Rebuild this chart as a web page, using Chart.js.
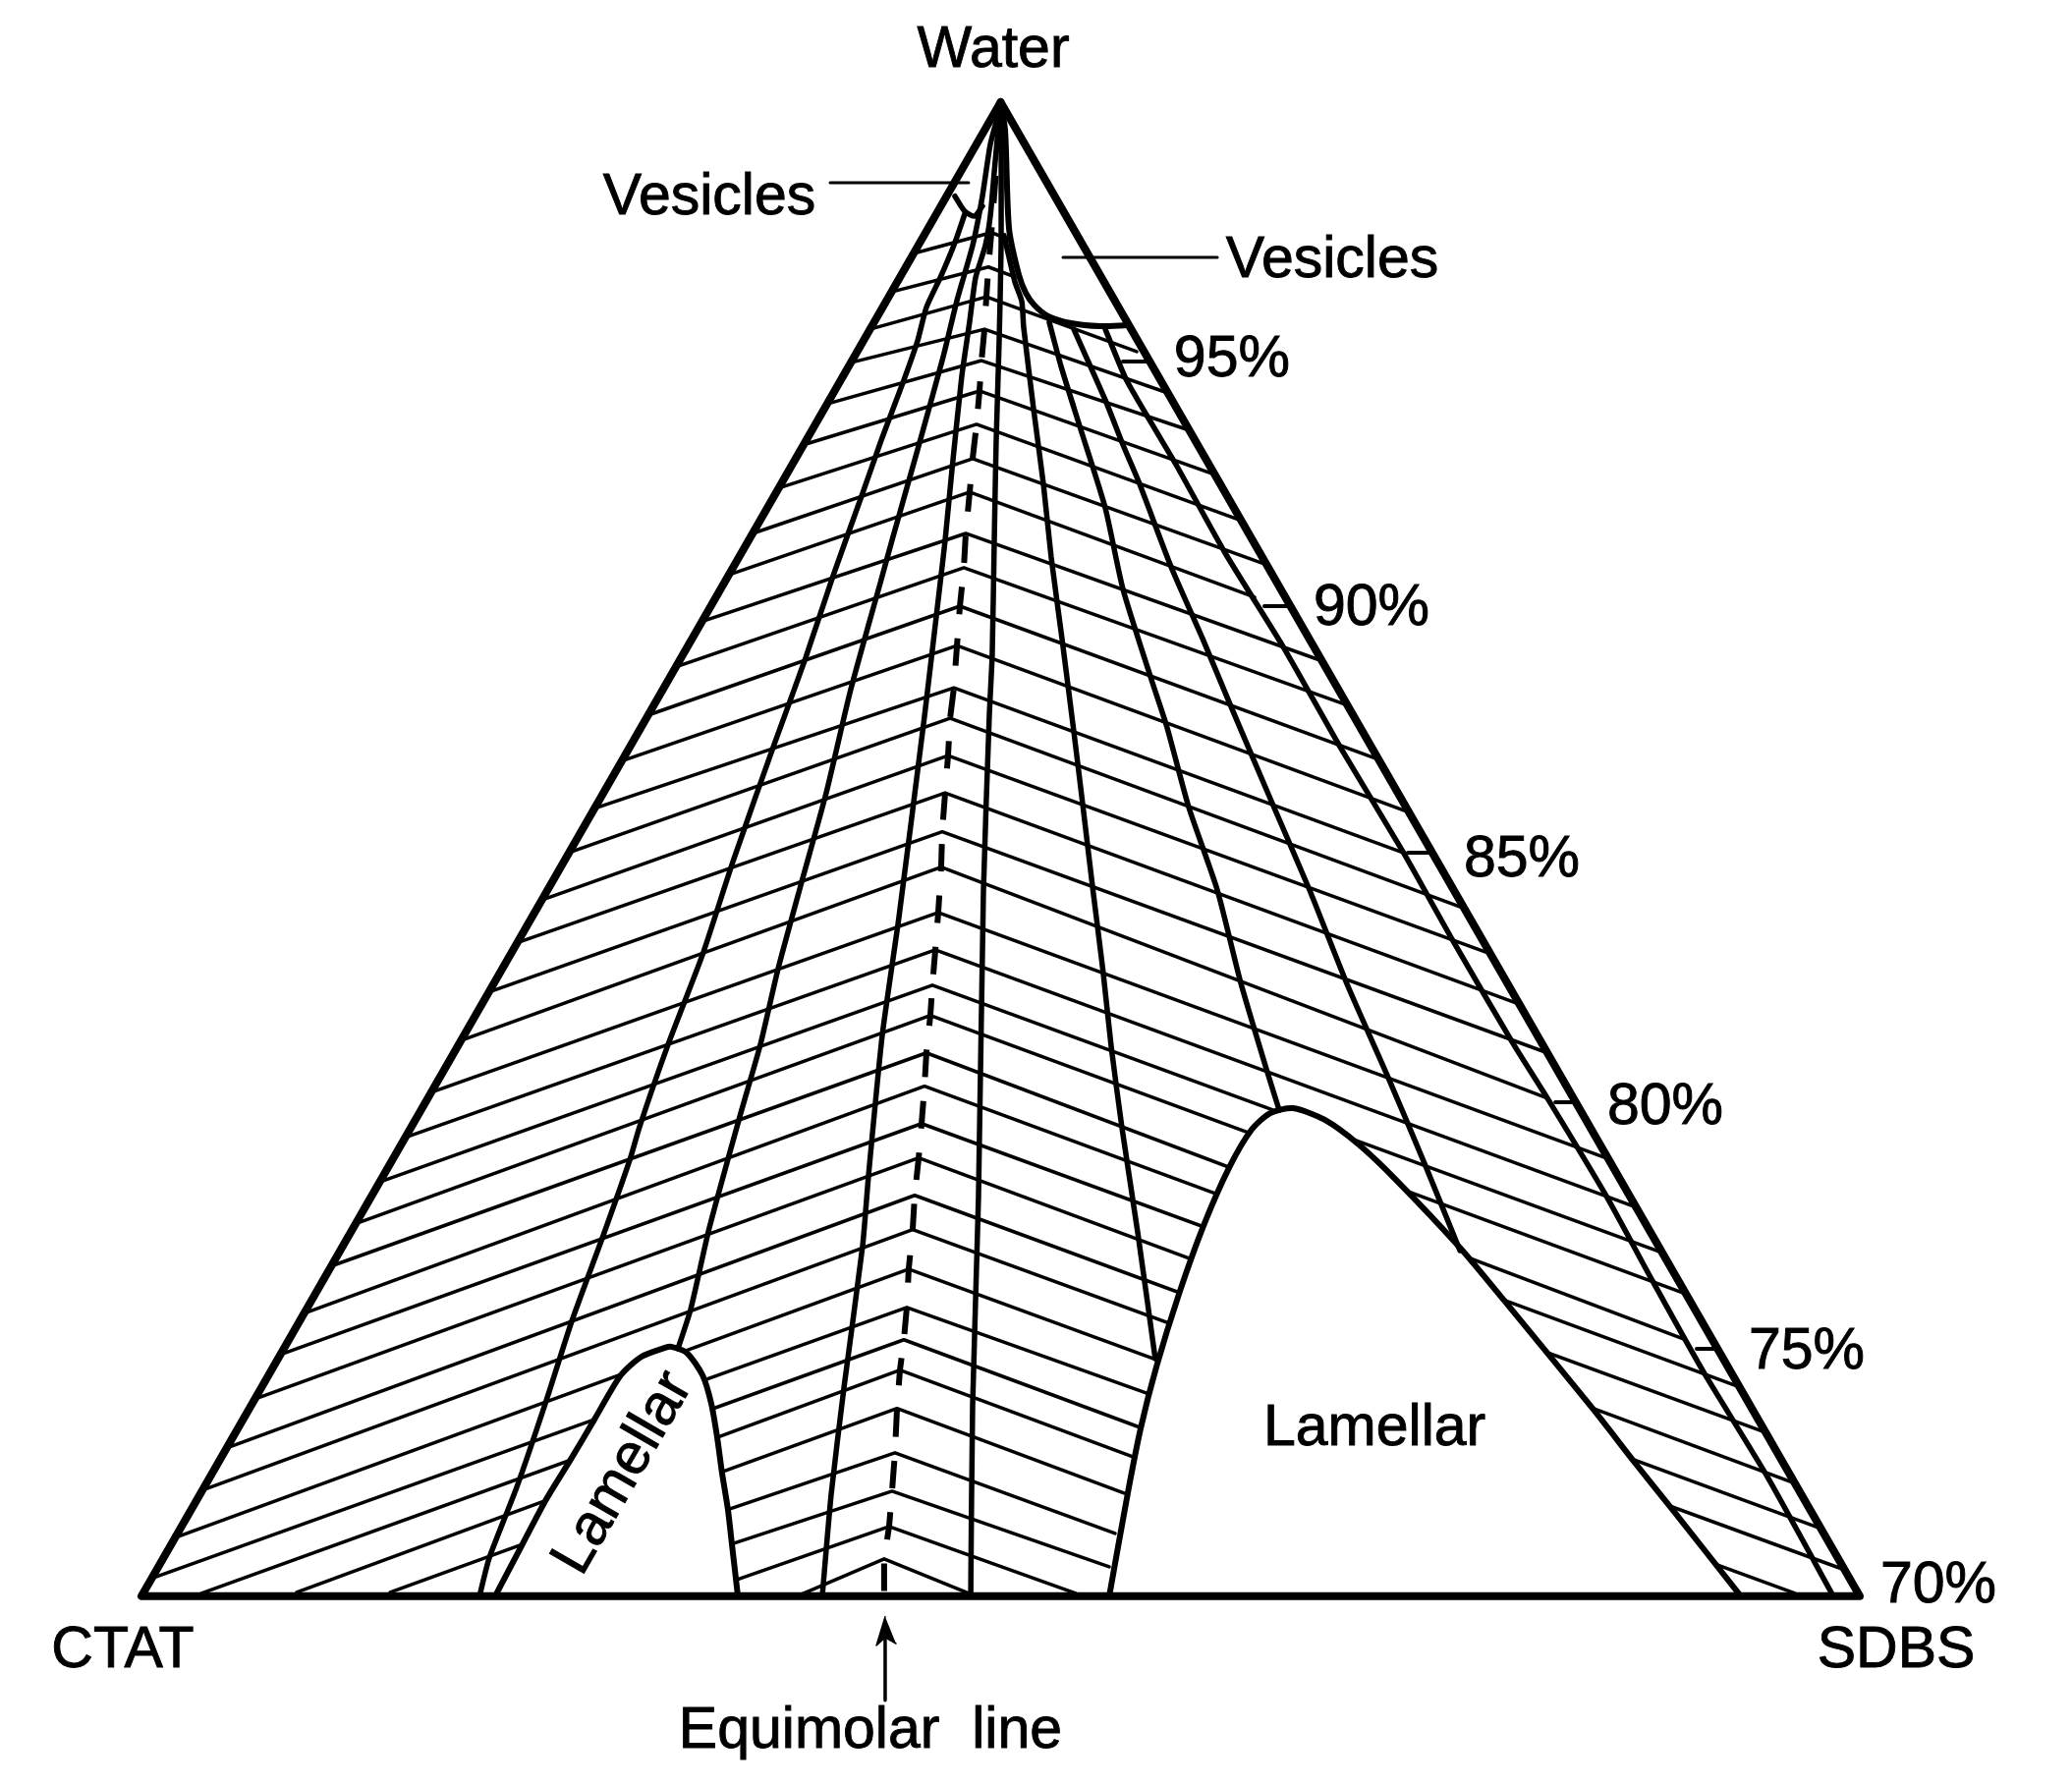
<!DOCTYPE html>
<html>
<head>
<meta charset="utf-8">
<title>CTAT / SDBS / Water phase diagram</title>
<script src="https://cdn.jsdelivr.net/npm/chart.js@4/dist/chart.umd.min.js"></script>
<style>
html, body { margin: 0; padding: 0; background: #fff; }
canvas { display: block; }
</style>
</head>
<body>
<canvas id="myChart" width="2109" height="1817"></canvas>
<script>
// =====================
// Data: x = share along the CTAT-SDBS base (0-100), y = water %
// =====================

// triangle corners
const triangleShare = [50, 0, 100, 50];
const triangleWater = [100, 70, 70, 100];

// tie lines: each one runs left end -> peak on the equimolar line -> right end
const peakShare = [49.46, 49.29, 49.17, 49.06, 48.89, 48.77, 48.60, 48.37, 48.20, 47.97, 47.86, 47.63, 47.46, 47.28, 47.06, 46.94, 46.77, 46.60, 46.54, 46.37, 46.20, 46.03, 45.91, 45.68, 45.57, 45.40, 45.23, 45.00, 44.88, 44.65, 44.54, 44.37, 44.14, 43.97, 43.85, 43.68, 43.51, 43.22];
const peakWater = [97.38, 96.69, 96.09, 95.44, 94.81, 94.20, 93.53, 92.84, 92.17, 91.34, 90.65, 89.88, 89.09, 88.24, 87.63, 86.88, 86.13, 85.35, 84.64, 83.73, 82.98, 82.27, 81.66, 80.91, 80.24, 79.49, 78.80, 78.05, 77.36, 76.57, 75.80, 75.15, 74.54, 73.77, 72.88, 72.11, 71.40, 70.75];
const leftShare = [44.93, 43.65, 42.40, 41.28, 39.90, 38.53, 37.08, 35.57, 34.18, 32.62, 31.10, 29.48, 27.95, 26.37, 24.88, 23.30, 21.87, 20.22, 18.60, 16.87, 15.35, 13.87, 12.47, 11.05, 9.47, 8.08, 6.60, 4.97, 3.55, 1.97, 0.60, 3.49, 9.03, 14.47, 34.13, 34.36, 34.71, 38.14];
const leftWater = [96.96, 96.19, 95.44, 94.77, 93.94, 93.12, 92.25, 91.34, 90.51, 89.57, 88.66, 87.69, 86.77, 85.82, 84.93, 83.98, 83.12, 82.13, 81.16, 80.12, 79.21, 78.32, 77.48, 76.63, 75.68, 74.85, 73.96, 72.98, 72.13, 71.18, 70.36, 70.06, 70.08, 70.08, 71.74, 71.05, 70.34, 70.00];
const rightShare = [50.54, 50.83, 57.92, 59.73, 60.98, 62.47, 64.00, 65.48, 64.78, 68.70, 70.18, 72.00, 73.77, 73.41, 76.98, 78.50, 80.18, 81.82, 81.82, 85.37, 86.98, 88.50, 89.88, 89.88, 93.00, 94.52, 96.22, 97.73, 99.12, 96.23, 58.66, 58.26, 57.69, 57.18, 56.66, 56.32, 54.37, 48.14];
const rightWater = [97.24, 96.49, 94.99, 94.16, 93.41, 92.52, 91.60, 90.71, 90.06, 88.78, 87.89, 86.80, 85.74, 84.93, 83.81, 82.90, 81.89, 80.91, 80.00, 78.78, 77.81, 76.90, 76.07, 75.15, 74.20, 73.29, 72.27, 71.36, 70.53, 70.06, 74.06, 73.37, 72.80, 72.07, 71.26, 70.59, 70.06, 70.06];

// equimolar line ends (the rest of it follows the peaks)
const equimolarTop = [50, 99.8];
const equimolarBottom = [43.22, 70];

// curves between apex and base
const curveAShare = [47.91, 47.34, 46.48, 45.68, 45.17, 44.37, 43.05, 41.91, 40.25, 38.65, 36.82, 34.42, 32.65, 30.65, 28.99, 28.42, 26.87, 25.04, 23.56, 21.84, 20.24, 19.67];
const curveAWater = [97.75, 97.18, 96.47, 95.88, 95.21, 94.42, 93.21, 92.09, 90.49, 88.84, 87.10, 84.75, 82.88, 81.08, 79.43, 78.76, 77.24, 75.52, 73.93, 72.19, 70.77, 70];
const curveBShare = [49.97, 49.40, 48.94, 48.37, 47.46, 46.66, 45.45, 44.65, 43.68, 43.05, 41.28, 39.85, 38.42, 37.05, 36.02, 34.82, 33.05, 31.96, 31.22];
const curveBWater = [99.88, 99.15, 98.11, 97.12, 96.02, 94.89, 93.37, 92.39, 91.20, 90.41, 88.21, 86.13, 84.34, 82.60, 81.08, 79.63, 77.40, 75.76, 74.97];
const curveCShare = [49.97, 49.63, 49.40, 49.11, 48.54, 48.20, 47.74, 47.17, 46.77, 46.54, 45.57, 44.08, 43.11, 42.31, 41.97, 40.88, 40.14, 39.62];
const curveCWater = [99.88, 98.60, 97.71, 97.12, 96.47, 95.60, 94.50, 92.62, 91.20, 90.51, 87.67, 83.63, 81.26, 78.44, 77.04, 74.18, 72.05, 70];
const curveDShare = [50.03, 50.03, 49.91, 49.74, 49.63, 49.51, 49.34, 49.00, 48.71, 48.37, 48.26];
const curveDWater = [99.88, 97.12, 95.15, 93.18, 91.20, 88.90, 87.67, 84.16, 77.99, 73.83, 70];
const curveEShare = [50.20, 50.83, 51.23, 51.34, 51.92, 52.49, 52.94, 53.57, 54.26, 54.77, 55.35, 55.97, 56.43, 57.06, 57.98, 59.00];
const curveEWater = [97.32, 96.39, 96.00, 95.48, 93.83, 92.33, 90.87, 89.23, 87.36, 85.92, 84.24, 82.52, 81.05, 79.41, 77.30, 74.77];
const curveFShare = [52.83, 53.52, 54.66, 56.09, 57.12, 58.78, 59.69, 60.95, 62.61, 63.98, 65.41, 66.21];
const curveFWater = [95.58, 94.69, 93.43, 91.85, 90.22, 88.40, 87.44, 85.84, 84.18, 82.31, 80.65, 79.76];
const curveGShare = [54.26, 56.09, 57.12, 58.09, 59.92, 61.75, 63.35, 65.81, 67.98, 70.21, 72.61, 74.73, 76.73];
const curveGWater = [95.44, 94.02, 93.12, 92.33, 90.67, 89.23, 87.91, 85.92, 84.18, 82.25, 80.37, 78.64, 76.94];
const curveHShare = [56.09, 57.35, 60.21, 63.06, 66.50, 69.81, 73.41, 76.39, 79.82, 81.82, 85.19, 87.94, 90.91, 94.57, 98.46];
const curveHWater = [95.44, 94.40, 92.72, 90.95, 89.03, 87.02, 84.95, 83.12, 81.10, 80.00, 78.07, 76.33, 74.50, 72.43, 70];

// lamellar regions
const smallLamellarShare = [20.58, 22.18, 23.56, 25.04, 26.36, 27.90, 29.10, 30.47, 30.82, 31.73, 32.65, 33.16, 33.50, 33.79, 34.13, 34.36, 34.71];
const smallLamellarWater = [70, 71.05, 71.95, 72.78, 73.55, 74.44, 74.81, 74.99, 75.01, 74.89, 74.44, 73.87, 73.20, 72.47, 71.74, 71.05, 70];
const bigLamellarShare = [56.32, 57.40, 58.15, 59.06, 60.38, 61.81, 63.29, 64.61, 65.69, 67.01, 68.84, 70.84, 73.07, 76.73, 79.30, 84.45, 86.96, 89.19, 93.08];
const bigLamellarWater = [70, 72.07, 73.37, 74.60, 76.07, 77.44, 78.60, 79.37, 79.70, 79.80, 79.57, 79.07, 78.34, 77.00, 75.94, 73.77, 72.66, 71.70, 70];

// vesicle regions
const rightVesicleShare = [50, 50.26, 50.49, 51.06, 51.46, 51.97, 52.77, 54.09, 55.80, 57.35];
const rightVesicleWater = [100, 99.43, 97.46, 96.53, 96.17, 95.92, 95.70, 95.56, 95.50, 95.52];
const leftVesicleShare = [47.34, 47.91, 48.48, 48.94];
const leftVesicleWater = [98.11, 97.81, 97.71, 97.91];

// short marks
const tickWater = [94.79, 89.88, 84.93, 79.92, 74.97];
const tickStart = [57.12, 65.35, 73.70, 82.28, 90.51];
const tickEnd = [58.68, 66.87, 75.12, 83.47, 91.72];
const leaderWater = [98.38, 96.88];
const leaderStart = [40.08, 53.63];
const leaderEnd = [48.14, 62.61];
const arrowStemShare = [43.28, 43.28];
const arrowStemWater = [67.91, 69.17];
const arrowHeadShare = [43.28, 42.77, 43.28, 43.91];
const arrowHeadWater = [69.59, 69.01, 69.17, 69.05];

// text
const labelText = ['Water', 'Vesicles', 'Vesicles', '95%', '90%', '85%', '80%', '75%', '70%', 'CTAT', 'SDBS', 'Equimolar  line', 'Lamellar', 'Lamellar'];
const labelShare = [49.57, 33.05, 69.30, 63.46, 71.58, 80.33, 88.68, 96.91, 104.57, -1.09, 102.12, 42.42, 71.76, 28.05];
const labelWater = [101.02, 98.07, 96.80, 94.81, 89.82, 84.77, 79.80, 74.89, 70.20, 68.89, 68.89, 67.28, 73.35, 72.47];
const labelAngle = [0, 0, 0, 0, 0, 0, 0, 0, 0, 0, 0, 0, 0, -60];

// =====================
// Build datasets
// =====================
function toPoints(xs, ys) {
    return xs.map((x, i) => ({ x: x, y: ys[i] }));
}

function lineSet(points, width, order, extra) {
    return Object.assign({
        data: points,
        showLine: true,
        borderColor: '#000',
        borderWidth: width,
        pointRadius: 0,
        tension: 0,
        fill: false,
        clip: false,
        order: order,
        borderCapStyle: 'round',
        borderJoinStyle: 'round'
    }, extra || {});
}

const datasets = [];

// tie lines go underneath everything
peakShare.forEach((share, i) => {
    datasets.push(lineSet([
        { x: leftShare[i], y: leftWater[i] },
        { x: share, y: peakWater[i] },
        { x: rightShare[i], y: rightWater[i] }
    ], 3.5, 5));
});

// white regions cover the tie lines
const regionStyle = { fill: 'shape', backgroundColor: '#fff', tension: 0.25 };
datasets.push(lineSet(toPoints(smallLamellarShare, smallLamellarWater), 6, 4, regionStyle));
datasets.push(lineSet(toPoints(bigLamellarShare, bigLamellarWater), 6, 4, regionStyle));
datasets.push(lineSet(toPoints(rightVesicleShare, rightVesicleWater), 6, 4, regionStyle));
datasets.push(lineSet(toPoints(leftVesicleShare, leftVesicleWater), 5.5, 4, { tension: 0.25 }));

// curves
[
    [curveAShare, curveAWater], [curveBShare, curveBWater], [curveCShare, curveCWater], [curveDShare, curveDWater],
    [curveEShare, curveEWater], [curveFShare, curveFWater], [curveGShare, curveGWater], [curveHShare, curveHWater]
].forEach(curve => {
    datasets.push(lineSet(toPoints(curve[0], curve[1]), 5.5, 3, { tension: 0.2 }));
});

// dashed equimolar line runs through the peaks
const equimolarPoints = [{ x: equimolarTop[0], y: equimolarTop[1] }]
    .concat(toPoints(peakShare, peakWater))
    .concat([{ x: equimolarBottom[0], y: equimolarBottom[1] }]);
datasets.push(lineSet(equimolarPoints, 6, 2, { borderDash: [28, 24.5], borderDashOffset: 40, borderCapStyle: 'butt' }));

// ticks, leaders, arrow
tickWater.forEach((water, i) => {
    datasets.push(lineSet([{ x: tickStart[i], y: water }, { x: tickEnd[i], y: water }], 4, 2));
});
leaderWater.forEach((water, i) => {
    datasets.push(lineSet([{ x: leaderStart[i], y: water }, { x: leaderEnd[i], y: water }], 3, 2));
});
datasets.push(lineSet(toPoints(arrowStemShare, arrowStemWater), 3.5, 2));
datasets.push(lineSet(toPoints(arrowHeadShare, arrowHeadWater), 1.5, 2, { fill: 'shape', backgroundColor: '#000' }));

// outer triangle on top
datasets.push(lineSet(toPoints(triangleShare, triangleWater), 8, 1));

// =====================
// Text labels
// =====================
const labelPlugin = {
    id: 'diagramLabels',
    afterDatasetsDraw(chart) {
        const ctx = chart.ctx;
        ctx.save();
        ctx.fillStyle = '#000';
        ctx.strokeStyle = '#000';
        ctx.lineWidth = 0.9;
        ctx.font = '59px "Liberation Sans"';
        ctx.textAlign = 'center';
        ctx.textBaseline = 'middle';
        labelText.forEach((text, i) => {
            const x = chart.scales.x.getPixelForValue(labelShare[i]);
            const y = chart.scales.y.getPixelForValue(labelWater[i]);
            ctx.save();
            ctx.translate(x, y);
            ctx.rotate(labelAngle[i] * Math.PI / 180);
            ctx.fillText(text, 0, 0);
            ctx.strokeText(text, 0, 0);
            ctx.restore();
        });
        ctx.restore();
    }
};

new Chart(document.getElementById('myChart').getContext('2d'), {
    type: 'scatter',
    data: { datasets: datasets },
    plugins: [labelPlugin],
    options: {
        responsive: false,
        animation: false,
        devicePixelRatio: 1,
        layout: { padding: 0 },
        plugins: { legend: { display: false }, tooltip: { enabled: false }, title: { display: false } },
        scales: {
            x: { type: 'linear', display: false, min: -8.233, max: 112.35 },
            y: { type: 'linear', display: false, min: 66.21, max: 102.05 }
        }
    }
});
</script>
</body>
</html>
